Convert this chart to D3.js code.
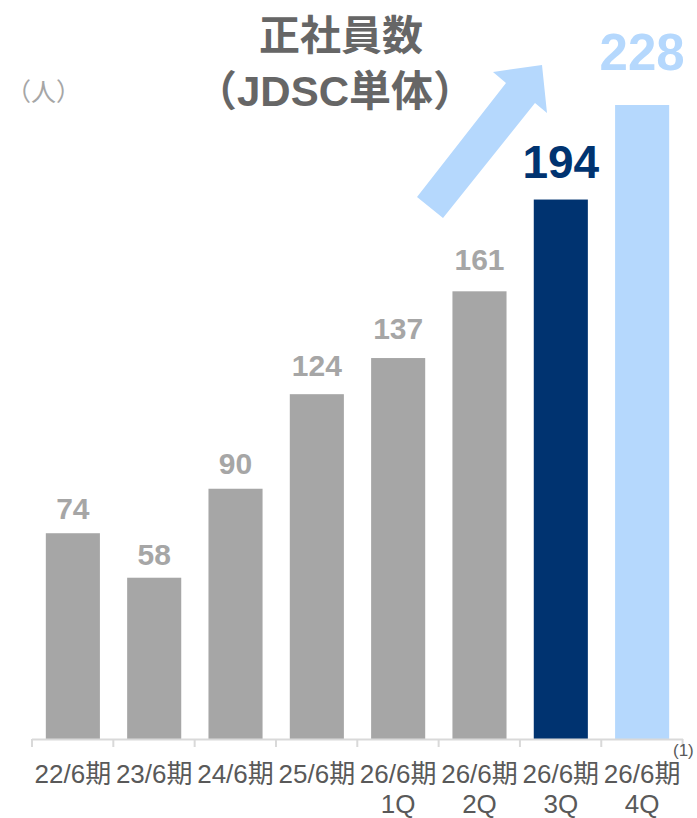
<!DOCTYPE html>
<html>
<head>
<meta charset="utf-8">
<script src="https://cdn.jsdelivr.net/npm/d3@7"></script>
<style>
  body { margin: 0; background: #fff; }
  svg { display: block; font-family: "Liberation Sans", Arial, "Noto Sans CJK JP", sans-serif; }
</style>
</head>
<body>
<svg id="chart" width="697" height="818"></svg>
<script>
const periods = ['22/6期', '23/6期', '24/6期', '25/6期', '26/6期', '26/6期', '26/6期', '26/6期'];
const quarters = ['', '', '', '', '1Q', '2Q', '3Q', '4Q'];
const employees = [74, 58, 90, 124, 137, 161, 194, 228];

const grey = '#a6a6a6', navy = '#003370', sky = '#b5d8fd';
const barColor = i => i === 6 ? navy : i === 7 ? sky : grey;

const svg = d3.select('#chart');

const x = d3.scaleBand()
  .domain(d3.range(employees.length))
  .range([32, 683])
  .paddingInner(0.335)
  .paddingOuter(0.17);

const y = d3.scaleLinear()
  .domain([0, 228])
  .range([739, 105]);

// bars
svg.selectAll('.bar')
  .data(employees)
  .enter()
  .append('rect')
  .attr('x', (d, i) => x(i))
  .attr('y', d => y(d))
  .attr('width', x.bandwidth())
  .attr('height', d => y(0) - y(d))
  .attr('fill', (d, i) => barColor(i));

// value labels
svg.selectAll('.value')
  .data(employees)
  .enter()
  .append('text')
  .attr('x', (d, i) => x(i) + x.bandwidth() / 2)
  .attr('y', (d, i) => y(d) - (i === 7 ? 35 : i === 6 ? 22 : 8 + d * 0.08))
  .attr('text-anchor', 'middle')
  .attr('font-weight', 'bold')
  .attr('font-size', (d, i) => i === 7 ? 51 : i === 6 ? 46 : 30)
  .attr('fill', (d, i) => barColor(i))
  .text(d => d);

// axis line + ticks between categories
const step = x.step();
const edges = d3.range(employees.length + 1).map(i => 32 + i * step);
svg.append('line')
  .attr('x1', 32).attr('x2', 683)
  .attr('y1', y(0) + 0.5).attr('y2', y(0) + 0.5)
  .attr('stroke', '#d9d9d9').attr('stroke-width', 2);
svg.selectAll('.tick')
  .data(edges)
  .enter()
  .append('line')
  .attr('x1', d => d).attr('x2', d => d)
  .attr('y1', y(0)).attr('y2', y(0) + 8)
  .attr('stroke', '#d9d9d9').attr('stroke-width', 2);

// category labels
const lab = svg.selectAll('.cat')
  .data(periods)
  .enter()
  .append('text')
  .attr('text-anchor', 'middle')
  .attr('font-size', 26)
  .attr('fill', '#595959');
lab.append('tspan')
  .attr('x', (d, i) => x(i) + x.bandwidth() / 2)
  .attr('y', 783)
  .text(d => d);
lab.append('tspan')
  .attr('x', (d, i) => x(i) + x.bandwidth() / 2)
  .attr('y', 813)
  .text((d, i) => quarters[i]);

svg.append('text')
  .attr('x', 673).attr('y', 756)
  .attr('font-size', 17)
  .attr('fill', '#595959')
  .text('(1)');

// unit
svg.append('text')
  .attr('x', 6).attr('y', 101)
  .attr('font-size', 25)
  .attr('fill', grey)
  .text('（人）');

// title
svg.append('text')
  .attr('x', 341).attr('y', 50)
  .attr('text-anchor', 'middle')
  .attr('font-size', 41)
  .attr('font-weight', 'bold')
  .attr('fill', '#666666')
  .text('正社員数');
svg.append('text')
  .attr('x', 335).attr('y', 106)
  .attr('text-anchor', 'middle')
  .attr('font-size', 42)
  .attr('font-weight', 'bold')
  .attr('fill', '#666666')
  .text('（JDSC単体）');

// growth arrow
const arrow = [[417, 197], [506, 83], [493, 72], [542, 65], [547, 113], [535, 103], [443, 218]];
svg.append('path')
  .attr('d', d3.line()(arrow) + 'Z')
  .attr('fill', sky);
</script>
</body>
</html>
